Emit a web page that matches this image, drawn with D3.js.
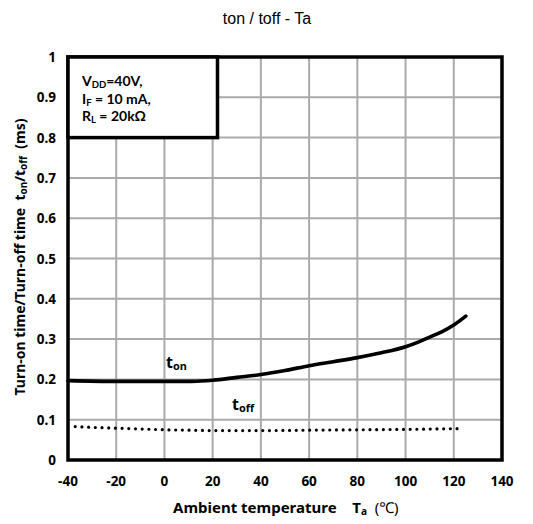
<!DOCTYPE html>
<html lang="en">
<head>
    <meta charset="UTF-8">
    <title>ton / toff - Ta</title>
    <script src="https://d3js.org/d3.v7.min.js"></script>
    <style>
        body {
            margin: 0;
            background: #fff;
        }
        .tick-label {
            font-family: "Noto Sans", sans-serif;
            font-weight: bold;
            font-size: 13.5px;
            fill: #000;
        }
        .axis-title {
            font-family: "Noto Sans", sans-serif;
            font-weight: bold;
            font-size: 14px;
            fill: #000;
        }
        .cond-text {
            font-family: Lato, "Noto Sans", sans-serif;
            font-weight: bold;
            fill: #000;
        }
    </style>
</head>
<body>
    <div id="chart"></div>
    <script>
        // x ticks / y ticks
        const xTicks = [-40, -20, 0, 20, 40, 60, 80, 100, 120, 140];
        const yTicks = [0, 0.1, 0.2, 0.3, 0.4, 0.5, 0.6, 0.7, 0.8, 0.9, 1];

        // t_on curve
        const tonTemp = [-40, -20, 0, 10, 15, 20, 30, 40, 50, 60, 70, 80, 90, 100, 105, 110, 115, 120, 125];
        const tonVal  = [0.197, 0.195, 0.195, 0.195, 0.196, 0.198, 0.205, 0.212, 0.222, 0.234, 0.244, 0.254, 0.266, 0.281, 0.292, 0.305, 0.318, 0.335, 0.357];

        // t_off curve (dotted)
        const toffTemp = [-37, -30, -20, -10, 0, 10, 20, 40, 60, 80, 100, 123];
        const toffVal  = [0.083, 0.081, 0.079, 0.077, 0.075, 0.074, 0.073, 0.073, 0.074, 0.075, 0.076, 0.078];

        const width = 533, height = 524;
        const margin = {top: 57, right: 31, bottom: 64, left: 68};

        const svg = d3.select('#chart').append('svg')
            .attr('width', width)
            .attr('height', height);

        const x = d3.scaleLinear().domain([-40, 140]).range([margin.left, width - margin.right]);
        const y = d3.scaleLinear().domain([0, 1]).range([height - margin.bottom, margin.top]);

        // title
        svg.append('text')
            .attr('x', 267)
            .attr('y', 24)
            .attr('text-anchor', 'middle')
            .style('font-family', '"Liberation Sans", Arial, sans-serif')
            .style('font-size', '16px')
            .text('ton / toff - Ta');

        // grid
        const grid = svg.append('g').attr('stroke', '#aaaaaa').attr('stroke-width', 2);
        grid.selectAll('.vx').data(xTicks.slice(1, -1)).enter().append('line')
            .attr('x1', d => x(d)).attr('x2', d => x(d))
            .attr('y1', y(0)).attr('y2', y(1));
        grid.selectAll('.hy').data(yTicks.slice(1, -1)).enter().append('line')
            .attr('x1', x(-40)).attr('x2', x(140))
            .attr('y1', d => y(d)).attr('y2', d => y(d));

        // tick labels
        svg.selectAll('.xl').data(xTicks).enter().append('text')
            .attr('class', 'tick-label')
            .attr('x', d => x(d))
            .attr('y', y(0) + 26)
            .attr('text-anchor', 'middle')
            .text(d => d);
        svg.selectAll('.yl').data(yTicks).enter().append('text')
            .attr('class', 'tick-label')
            .attr('x', x(-40) - 12)
            .attr('y', d => y(d) + 5)
            .attr('text-anchor', 'end')
            .text(d => d3.format('')(+d.toFixed(1)));

        // curves
        const line = d3.line()
            .x(d => x(d[0]))
            .y(d => y(d[1]))
            .curve(d3.curveMonotoneX);

        svg.append('path')
            .datum(tonTemp.map((t, i) => [t, tonVal[i]]))
            .attr('d', line)
            .attr('fill', 'none')
            .attr('stroke', '#000')
            .attr('stroke-width', 3.6)
            .attr('stroke-linecap', 'round');

        svg.append('path')
            .datum(toffTemp.map((t, i) => [t, toffVal[i]]))
            .attr('d', line)
            .attr('fill', 'none')
            .attr('stroke', '#000')
            .attr('stroke-width', 3.2)
            .attr('stroke-linecap', 'round')
            .attr('stroke-dasharray', '0 6.7');

        // plot frame
        svg.append('rect')
            .attr('x', x(-40)).attr('y', y(1))
            .attr('width', x(140) - x(-40)).attr('height', y(0) - y(1))
            .attr('fill', 'none')
            .attr('stroke', '#000')
            .attr('stroke-width', 3.5);

        // condition box
        svg.append('rect')
            .attr('x', x(-40)).attr('y', y(1))
            .attr('width', x(22) - x(-40)).attr('height', y(0.8) - y(1))
            .attr('fill', '#fff')
            .attr('stroke', '#000')
            .attr('stroke-width', 3.5);

        function subText(g, cls, px, py, main, sub, rest, size) {
            const t = g.append('text')
                .attr('class', cls)
                .attr('x', px).attr('y', py)
                .style('font-size', size + 'px');
            t.append('tspan').text(main);
            t.append('tspan').attr('baseline-shift', '-2').style('font-size', (size * 0.68) + 'px').text(sub);
            t.append('tspan').text(rest);
            return t;
        }
        const cond = svg.append('g');
        subText(cond, 'cond-text', 82, 86, 'V', 'DD', '=40V,', 14);
        subText(cond, 'cond-text', 82, 103.5, 'I', 'F', ' = 10 mA,', 14);
        subText(cond, 'cond-text', 82, 121, 'R', 'L', ' = 20kΩ', 14);

        // curve labels
        subText(svg, 'axis-title', 166, 368, 't', 'on', '', 16);
        subText(svg, 'axis-title', 232, 410, 't', 'off', '', 16);

        // x axis title
        const xt = svg.append('text')
            .attr('class', 'axis-title')
            .attr('x', 173).attr('y', 513)
            .style('font-size', '15px');
        xt.append('tspan').text('Ambient temperature\u00a0\u00a0\u00a0\u00a0T');
        xt.append('tspan').attr('baseline-shift', '-2').style('font-size', '10px').text('a');
        xt.append('tspan').style('font-weight', 'normal').text('\u00a0\u00a0(℃)');

        // y axis title
        const yt = svg.append('text')
            .attr('class', 'axis-title')
            .attr('transform', 'translate(25, 257) rotate(-90)')
            .attr('text-anchor', 'middle');
        yt.append('tspan').text('Turn-on time/Turn-off time\u00a0\u00a0t');
        yt.append('tspan').attr('baseline-shift', '-2').style('font-size', '10px').text('on');
        yt.append('tspan').text('/t');
        yt.append('tspan').attr('baseline-shift', '-2').style('font-size', '10px').text('off');
        yt.append('tspan').text('\u00a0\u00a0(ms)');
    </script>
</body>
</html>
